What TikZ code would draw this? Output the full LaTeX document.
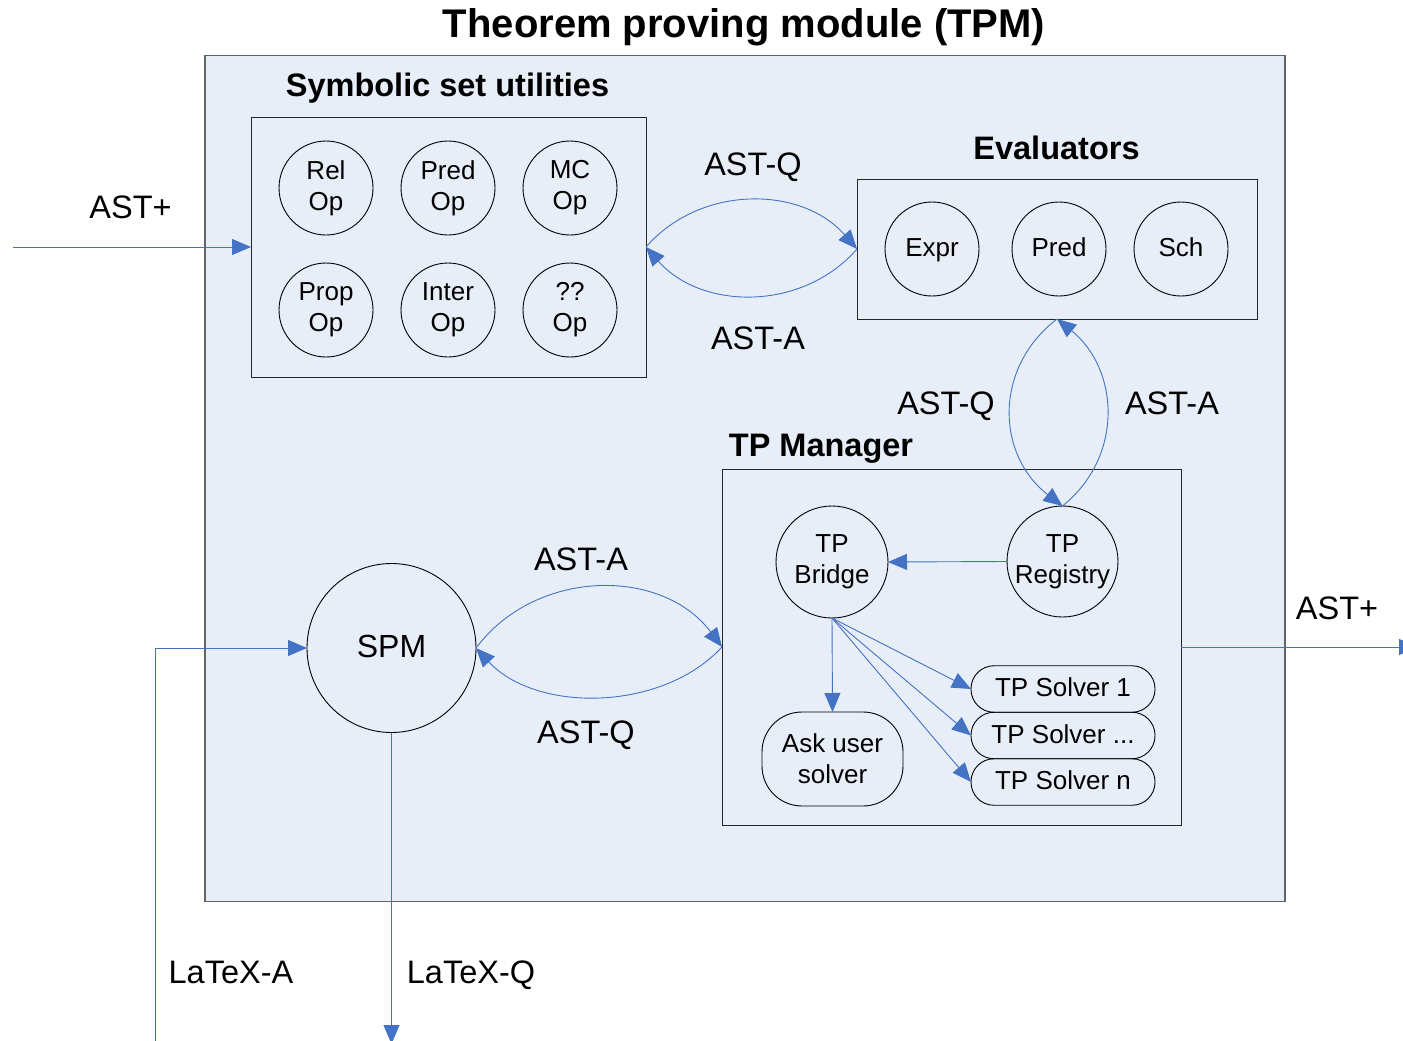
\documentclass[tikz,border=0pt]{standalone}
\usepackage{fontspec}
\setmainfont{Liberation Sans}
\usetikzlibrary{arrows.meta}
\definecolor{boxfill}{RGB}{232,238,248}
\definecolor{arrowblue}{RGB}{68,114,196}
\definecolor{outerline}{RGB}{100,100,100}
\tikzset{
  outerbox/.style={draw=outerline, line width=1.3pt, fill=boxfill, inner sep=0pt, outer sep=0pt},
  groupbox/.style={draw=black!85, line width=1pt, fill=boxfill, inner sep=0pt, outer sep=0pt},
  circ/.style={circle, draw=black, line width=0.9pt, inner sep=0pt, outer sep=0pt, align=center,
    font=\fontsize{26}{31}\selectfont},
  pill/.style={rectangle, draw=black, line width=0.9pt, inner sep=0pt, outer sep=0pt, align=center,
    font=\fontsize{26}{31}\selectfont},
  oneline/.style={text height=18.7pt, text depth=3pt},
  conn/.style={draw=arrowblue, line width=0.9pt, -{Triangle[length=19pt,width=16pt]}},
  lbl/.style={anchor=base, inner sep=0pt, font=\fontsize{32.5}{38}\selectfont},
  head/.style={anchor=base, inner sep=0pt, font=\fontsize{32.5}{38}\selectfont\bfseries},
  ttl/.style={anchor=base, inner sep=0pt, font=\fontsize{40}{46}\selectfont\bfseries}
}
\begin{document}
\begin{tikzpicture}[x=1pt,y=-1pt]
\useasboundingbox (0,0) rectangle (1403,1041);
% outer module
\node[outerbox, minimum width=1080pt, minimum height=846pt] (tpm) at (745,478.5) {};
\node[ttl] (title) at (744,38) {Theorem proving module (TPM)};
% symbolic set utilities
\node[head] (symlbl) at (447.5,96) {Symbolic set utilities};
\node[groupbox, minimum width=395pt, minimum height=260pt] (sym) at (448.5,247) {};
\node[circ, minimum size=94pt] (rel) at (326,188) {Rel\\Op};
\node[circ, minimum size=94pt] (pred) at (448,188) {Pred\\Op};
\node[circ, minimum size=94pt] (mc) at (570,188) {MC\\Op};
\node[circ, minimum size=94pt] (prop) at (326,310) {Prop\\Op};
\node[circ, minimum size=94pt] (inter) at (448,310) {Inter\\Op};
\node[circ, minimum size=94pt] (qq) at (570,310) {??\\Op};
% evaluators
\node[head] (evallbl) at (1056.5,159) {Evaluators};
\node[groupbox, minimum width=400pt, minimum height=140pt] (eval) at (1057,249) {};
\node[circ, oneline, minimum size=94pt] (expr) at (932,249) {Expr};
\node[circ, oneline, minimum size=94pt] (epred) at (1059,249) {Pred};
\node[circ, oneline, minimum size=94pt] (sch) at (1181,249) {Sch};
% TP manager
\node[head] (mgrlbl) at (821,456) {TP Manager};
\node[groupbox, minimum width=459pt, minimum height=356pt] (mgr) at (951.5,647) {};
\node[circ, minimum size=112pt] (bridge) at (832,562) {TP\\Bridge};
\node[circ, minimum size=111pt] (reg) at (1062.5,561.5) {TP\\Registry};
\node[pill, rounded corners=40pt, minimum width=141pt, minimum height=94pt] (ask) at (832.5,759) {Ask user\\solver};
\node[pill, oneline, rounded corners=23pt, minimum width=184pt, minimum height=46.5pt] (s1) at (1063,689) {TP Solver 1};
\node[pill, oneline, rounded corners=23pt, minimum width=184pt, minimum height=46.5pt] (s2) at (1063,735.5) {TP Solver ...};
\node[pill, oneline, rounded corners=23pt, minimum width=184pt, minimum height=46.5pt] (s3) at (1063,782) {TP Solver n};
% SPM
\node[circ, minimum size=169pt, font=\fontsize{32}{38}\selectfont, text height=23pt, text depth=4pt] (spm) at (391.5,648) {SPM};
% free ends
\coordinate (inL) at (13,247);
\coordinate (outR) at (1418,647);
\coordinate (la) at (155,1045);
\coordinate (lq) at (391.5,1044);
% connectors
\draw[conn] (inL) -- (sym.west);
\draw[conn] (sym.east) .. controls +(55,-63) and +(-55,-63) .. (eval.west);
\draw[conn] (eval.west) .. controls +(-55,63) and +(55,63) .. (sym.east);
\draw[conn] (eval.south) .. controls +(-65,50) and +(-65,-50) .. (reg.north);
\draw[conn] (reg.north) .. controls +(62,-50) and +(62,50) .. (eval.south);
\draw[conn] (reg.west) -- (bridge.east);
\draw[conn] (bridge.south) -- (ask.north);
\draw[conn] (bridge.south) -- (s1.west);
\draw[conn] (bridge.south) -- (s2.west);
\draw[conn] (bridge.south) -- (s3.west);
\draw[conn] (spm.east) .. controls +(60,-80) and +(-60,-80) .. (mgr.west);
\draw[conn] (mgr.west) .. controls +(-60,65) and +(60,65) .. (spm.east);
\draw[conn] (la) |- (spm.west);
\draw[conn] (spm.south) -- (lq);
\draw[conn] (mgr.east) -- (outR);
% labels
\node[lbl] (lastp) at (130.5,218) {AST+};
\node[lbl] (lq1) at (753,175) {AST-Q};
\node[lbl] (la1) at (758,349) {AST-A};
\node[lbl] (lq2) at (946,414) {AST-Q};
\node[lbl] (la2) at (1172,414) {AST-A};
\node[lbl] (la3) at (581,570) {AST-A};
\node[lbl] (lq3) at (586,743) {AST-Q};
\node[lbl] (llatexa) at (231,983) {LaTeX-A};
\node[lbl] (llatexq) at (471,983) {LaTeX-Q};
\node[lbl] (rastp) at (1337,619) {AST+};
\end{tikzpicture}
\end{document}
